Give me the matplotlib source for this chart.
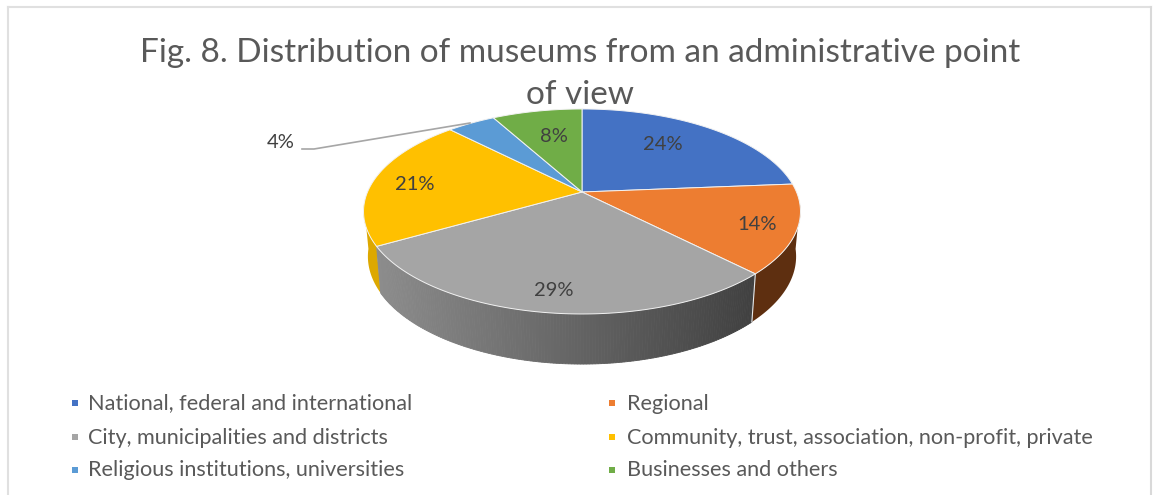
import matplotlib
matplotlib.use('Agg')
import matplotlib.pyplot as plt
import numpy as np

categories = ['National, federal and international', 'Regional',
              'City, municipalities and districts',
              'Community, trust, association, non-profit, private',
              'Religious institutions, universities', 'Businesses and others']
shares = [23.7, 14, 29, 21, 4.3, 8]
colors = ['#4472C4', '#ED7D31', '#A5A5A5', '#FFC000', '#5B9BD5', '#70AD47']
title = 'Fig. 8. Distribution of museums from an administrative point\nof view'

text_color = '#595959'
# pie geometry in image pixels, with a little perspective on the disc
cx, cy = 582, 192
a, b, k = 214.5, 98.8, 0.19


def top_rim(theta):
    # theta runs clockwise from 12 o'clock
    x, y = np.sin(theta), np.cos(theta)
    d = 1 + k * y
    return cx + a * x / d, cy - b * y / d


def bottom_rim(theta):
    x, y = top_rim(theta)
    return cx + 0.98 * (x - cx), cy + 1.05 * (y - cy) + 44


def side_color(x):
    # gray side runs from mid gray on the left to dark gray on the right
    t = np.clip((x - 378) / (756 - 378), 0, 1)
    return str(0.55 - t * 0.30)


fig = plt.figure(figsize=(11.55, 4.95), dpi=100)
ax = fig.add_axes([0, 0, 1, 1])
ax.set_xlim(0, 1155)
ax.set_ylim(495, 0)
ax.axis('off')

# chart frame, open at the bottom
ax.plot([8, 8], [495, 7], color='#e0e0e0', lw=1.5)
ax.plot([8, 1151], [7, 7], color='#e0e0e0', lw=1.5)
ax.plot([1151, 1151], [7, 495], color='#d9d9d9', lw=1.5)

edges = np.cumsum([0] + shares) / sum(shares) * 2 * np.pi
left_extreme = np.deg2rad(263)
right_extreme = np.deg2rad(97)

# outer side, orange part
t = np.linspace(right_extreme, edges[2], 40)
xs = np.r_[top_rim(t)[0], bottom_rim(t)[0][::-1]]
ys = np.r_[top_rim(t)[1], bottom_rim(t)[1][::-1]]
ax.fill(xs, ys, color='#5E2F10', lw=0)

# outer side, yellow part
t = np.linspace(edges[3], left_extreme, 20)
xs = np.r_[top_rim(t)[0], bottom_rim(t)[0][::-1]]
ys = np.r_[top_rim(t)[1], bottom_rim(t)[1][::-1]]
ax.fill(xs, ys, color='#DDA800', lw=0)

# outer side, gray part with its gradient
t = np.linspace(edges[2], edges[3], 160)
for t0, t1 in zip(t[:-1], t[1:]):
    pair = np.array([t0, t1])
    xs = np.r_[top_rim(pair)[0], bottom_rim(pair)[0][::-1]]
    ys = np.r_[top_rim(pair)[1], bottom_rim(pair)[1][::-1]]
    c = side_color(xs.mean())
    ax.fill(xs, ys, facecolor=c, edgecolor=c, lw=0.6)

# white seam between gray and brown sides
ax.plot(*zip(top_rim(edges[2]), bottom_rim(edges[2])), color='#e8e8e8', lw=0.8)

# top of the pie
for i, col in enumerate(colors):
    t = np.linspace(edges[i], edges[i + 1], 120)
    x, y = top_rim(t)
    ax.fill(np.r_[cx, x], np.r_[cy, y], facecolor=col, edgecolor='#f2f2f2', lw=0.7,
            joinstyle='round')

# percent labels
label_pos = [(663, 145), (757, 224), (554, 290), (415, 185), (281, 142), (554, 137)]
for val, (lx, ly) in zip(shares, label_pos):
    ax.text(lx, ly, f'{round(val)}%', ha='center', va='center', fontsize=14.5,
            color='#404040', family='Lato')

# leader line for the small slice
ax.plot([302, 314, 470], [149, 149, 123], color='#a6a6a6', lw=1.2)

ax.text(580, 73.5, title, ha='center', va='center', fontsize=24, color=text_color,
        family='Lato', linespacing=1.5)

# legend
legend_x = [75, 612]
legend_y = [403, 437, 470]
for i, name in enumerate(categories):
    mx = legend_x[i % 2]
    my = legend_y[i // 2]
    ax.plot(mx, my, marker='s', ms=4.2, color=colors[i], mew=0)
    ax.text(mx + 13 + (i % 2) * 2, my + 6.5, name, ha='left', va='baseline', fontsize=15.6,
            color=text_color, family='Lato')

fig.savefig('out.png', dpi=100)
